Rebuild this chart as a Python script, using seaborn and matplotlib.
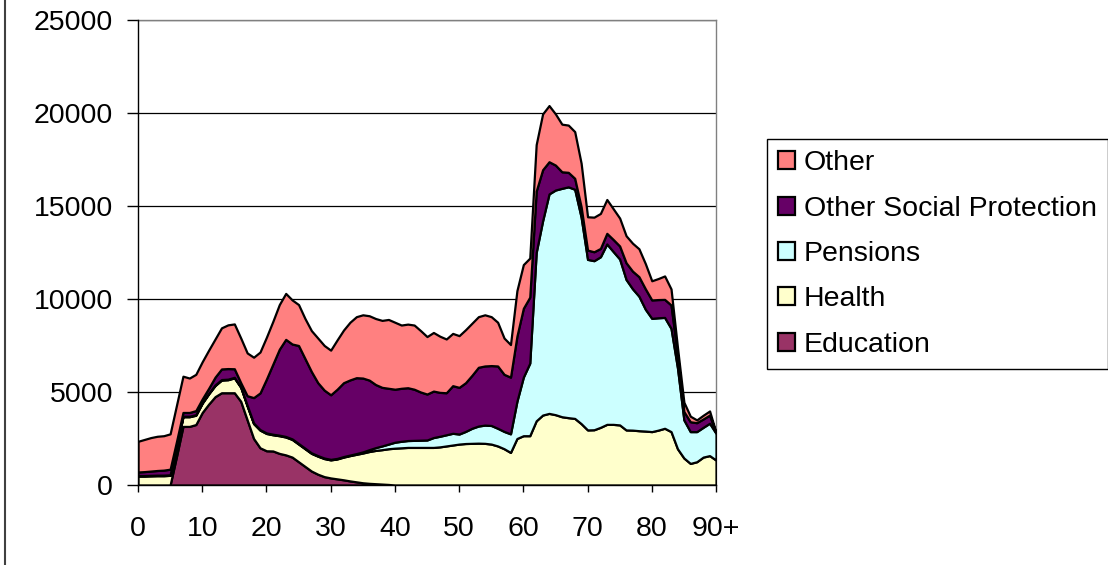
import numpy as np
import matplotlib
matplotlib.use("Agg")
import matplotlib.pyplot as plt
from matplotlib.lines import Line2D
import seaborn as sns

# ---------------- data ----------------
ages = list(range(0, 91))
xtick_positions = [0, 10, 20, 30, 40, 50, 60, 70, 80, 90]
xtick_labels = ["0", "10", "20", "30", "40", "50", "60", "70", "80", "90+"]
ytick_values = [0, 5000, 10000, 15000, 20000, 25000]

series_names = ["Education", "Health", "Pensions", "Other Social Protection", "Other"]
series_colors = ["#993366", "#FFFFCC", "#CCFFFF", "#660066", "#FF8080"]

education = [
    0, 0, 0, 0, 0, 0, 1550, 3150, 3150, 3250,
    3900, 4350, 4750, 4960, 4960, 4960, 4500, 3500, 2500, 2000,
    1840, 1830, 1700, 1620, 1500, 1250, 1000, 750, 580, 450,
    380, 330, 280, 220, 170, 120, 90, 70, 50, 30,
    0, 0, 0, 0, 0, 0, 0, 0, 0, 0,
    0, 0, 0, 0, 0, 0, 0, 0, 0, 0,
    0, 0, 0, 0, 0, 0, 0, 0, 0, 0,
    0, 0, 0, 0, 0, 0, 0, 0, 0, 0,
    0, 0, 0, 0, 0, 0, 0, 0, 0, 0,
    0,
]
health = [
    480, 480, 490, 500, 500, 520, 500, 520, 520, 500,
    500, 550, 600, 680, 700, 800, 750, 750, 800, 950,
    930, 870, 950, 960, 950, 950, 950, 950, 970, 970,
    970, 1070, 1220, 1360, 1480, 1600, 1710, 1790, 1850, 1920,
    1980, 2000, 2020, 2020, 2020, 2020, 2020, 2050, 2100, 2150,
    2200, 2230, 2240, 2250, 2240, 2200, 2100, 1950, 1750, 2500,
    2650, 2650, 3450, 3760, 3850, 3780, 3670, 3620, 3580, 3300,
    2960, 2970, 3100, 3260, 3260, 3230, 2960, 2950, 2920, 2900,
    2870, 2950, 3050, 2870, 1950, 1450, 1160, 1250, 1500, 1580,
    1340,
]
pensions = [
    30, 30, 30, 30, 30, 30, 30, 30, 30, 30,
    30, 30, 30, 30, 30, 30, 30, 30, 30, 30,
    30, 30, 30, 30, 30, 30, 30, 30, 30, 30,
    30, 30, 30, 30, 40, 60, 100, 150, 200, 250,
    320, 350, 370, 380, 390, 400, 530, 570, 600, 630,
    540, 650, 810, 920, 980, 1000, 950, 930, 1000, 2000,
    3150, 3900, 9050, 10440, 11800, 12080, 12280, 12410, 12320, 11100,
    9170, 9090, 9170, 9700, 9290, 8920, 8090, 7600, 7230, 6550,
    6090, 6040, 5960, 5550, 4350, 2050, 1710, 1620, 1600, 1740,
    1440,
]
other_social_protection = [
    190, 210, 230, 250, 270, 300, 270, 200, 200, 220,
    200, 270, 420, 570, 570, 460, 220, 520, 1370, 1970,
    2900, 3770, 4620, 5220, 5100, 5270, 4820, 4370, 3920, 3650,
    3470, 3720, 3970, 4040, 4080, 3970, 3740, 3390, 3150, 3000,
    2850, 2850, 2840, 2750, 2590, 2470, 2500, 2360, 2260, 2560,
    2510, 2620, 2850, 3160, 3180, 3220, 3350, 3070, 3050, 3500,
    3700, 3550, 3300, 2750, 1730, 1340, 890, 780, 590, 560,
    500, 480, 450, 570, 650, 700, 900, 950, 1050, 1100,
    990, 980, 970, 1260, 700, 450, 530, 480, 450, 440,
    20,
]
other = [
    1650, 1730, 1800, 1840, 1850, 1900, 1950, 1950, 1850, 1950,
    2000, 2050, 2050, 2210, 2350, 2410, 2400, 2300, 2170, 2200,
    2250, 2300, 2400, 2470, 2370, 2200, 2150, 2200, 2400, 2400,
    2400, 2650, 2830, 3100, 3280, 3400, 3460, 3550, 3600, 3700,
    3600, 3400, 3420, 3450, 3300, 3090, 3150, 3020, 2890, 2810,
    2780, 2850, 2800, 2720, 2750, 2630, 2350, 1950, 1750, 2450,
    2350, 2100, 2500, 3000, 3020, 2750, 2560, 2540, 2510, 2340,
    1790, 1860, 1880, 1820, 1650, 1500, 1450, 1500, 1500, 1350,
    1030, 1130, 1260, 860, 400, 500, 300, 150, 200, 220,
    20,
]

# ---------------- style ----------------
sns.set_theme(style="white")
plt.rcParams["font.family"] = ["Liberation Sans", "DejaVu Sans"]

W, H = 1108, 565
fig = plt.figure(figsize=(W / 100, H / 100), dpi=100)
ax = fig.add_axes([138 / W, 1 - 485 / H, (716 - 138) / W, (485 - 20) / H])

ax.stackplot(
    ages,
    education, health, pensions, other_social_protection, other,
    labels=series_names,
    colors=series_colors,
    edgecolor="black",
    linewidth=1.6,
    zorder=3,
)

ax.set_xlim(0, 90)
ax.set_ylim(0, 25000)
ax.set_yticks(ytick_values)
ax.set_yticklabels([str(v) for v in ytick_values])
ax.set_xticks(xtick_positions)
ax.set_xticklabels(xtick_labels)

ax.yaxis.grid(True, color="black", linewidth=0.9, zorder=0)
ax.xaxis.grid(False)
ax.set_axisbelow(True)

for side in ["top", "right"]:
    ax.spines[side].set_color("#808080")
    ax.spines[side].set_linewidth(1.0)
for side in ["left", "bottom"]:
    ax.spines[side].set_color("black")
    ax.spines[side].set_linewidth(1.0)
    ax.spines[side].set_zorder(5)

ax.tick_params(axis="y", which="major", direction="out", length=8, width=1,
               color="black", labelsize=20.5, pad=10, left=True, labelcolor="black")
ax.tick_params(axis="x", which="major", direction="out", length=5, width=1,
               color="black", labelsize=20.5, pad=17, bottom=True, labelcolor="black")

# legend (reverse order like reference)
handles, labels = ax.get_legend_handles_labels()
leg = fig.legend(
    handles[::-1], labels[::-1],
    loc="upper left",
    bbox_to_anchor=(767 / W, 1 - 139 / H),
    bbox_transform=fig.transFigure,
    fontsize=20.5,
    frameon=True,
    fancybox=False,
    shadow=False,
    framealpha=1,
    edgecolor="black",
    handlelength=0.6,
    handleheight=0.6,
    handletextpad=0.3,
    labelspacing=0.68,
    borderpad=0.4,
    borderaxespad=0,
)
leg.get_frame().set_linewidth(1.0)
for t in leg.get_texts():
    t.set_color("black")

# outer chart border (left edge visible)
fig.add_artist(Line2D([5 / W, 5 / W], [0, 1], transform=fig.transFigure,
                      color="#404040", linewidth=1.5))

fig.savefig("out.png", dpi=100)
